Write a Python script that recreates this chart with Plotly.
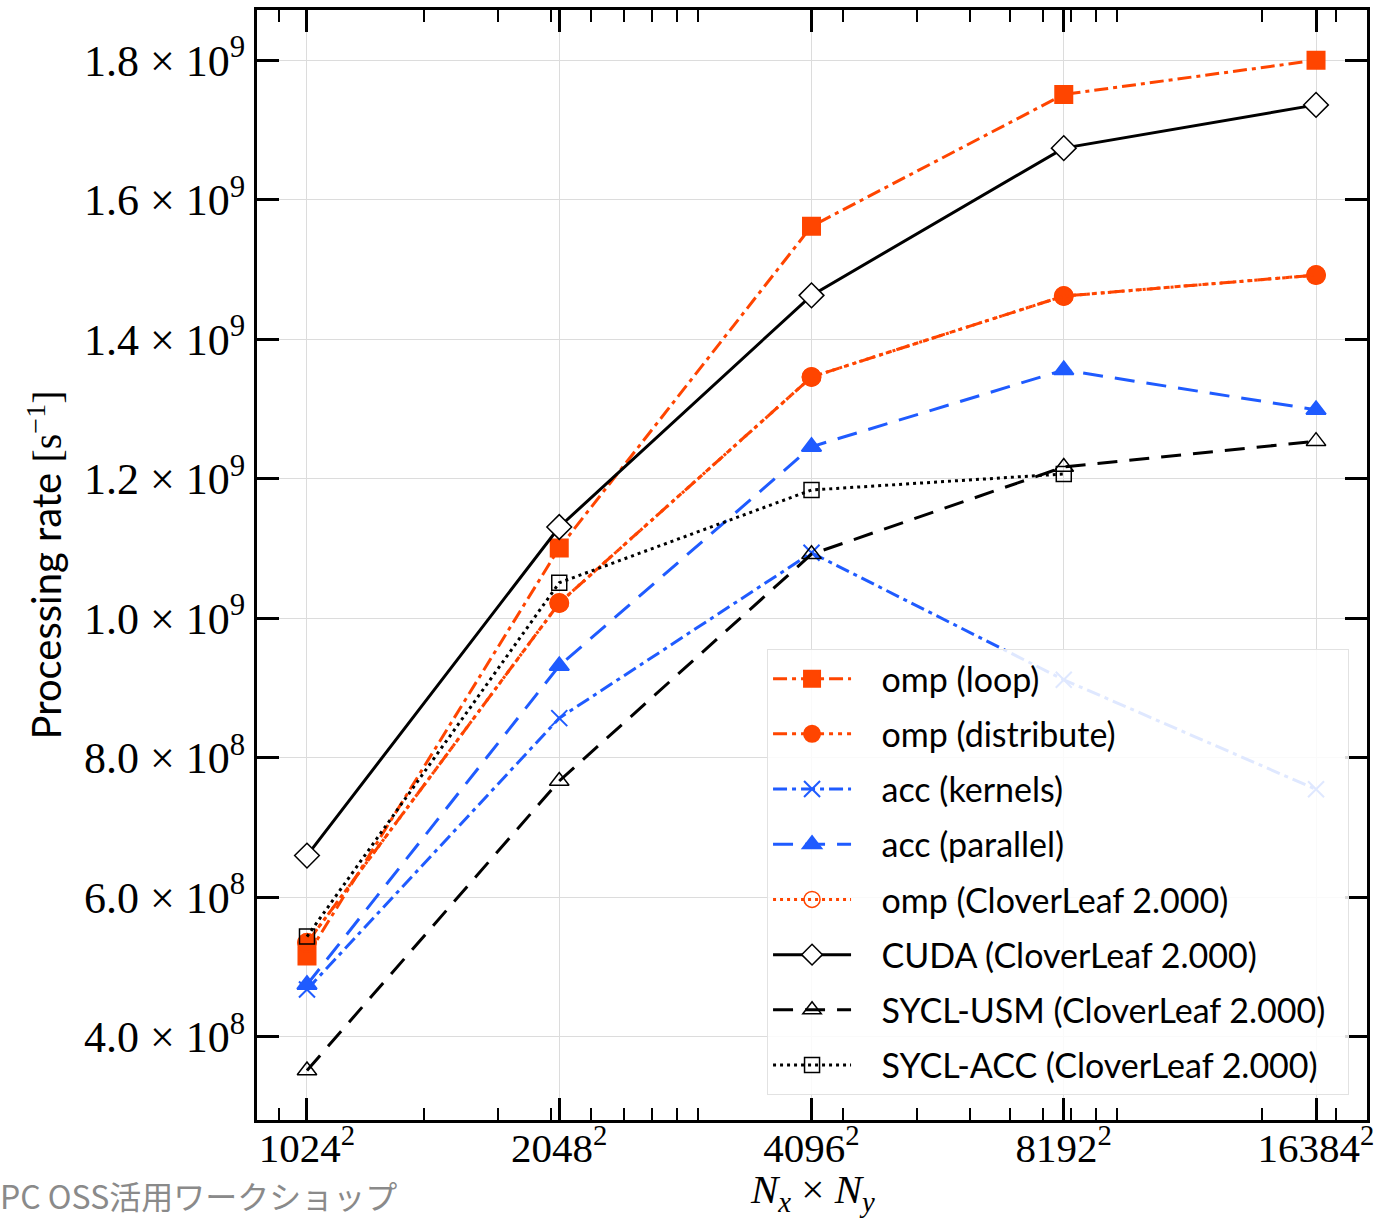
import plotly.graph_objects as go

# ---- data ----
grid_sizes = [1024, 2048, 4096, 8192, 16384]
tick_labels = ["1024<sup>2</sup>", "2048<sup>2</sup>", "4096<sup>2</sup>", "8192<sup>2</sup>", "16384<sup>2</sup>"]

omp_loop = [5.16e8, 1.101e9, 1.562e9, 1.751e9, 1.800e9]
omp_distribute = [5.35e8, 1.022e9, 1.346e9, 1.462e9, 1.492e9]
acc_kernels = [4.68e8, 8.57e8, 1.094e9, 9.12e8, 7.55e8]
acc_parallel = [4.75e8, 9.32e8, 1.246e9, 1.356e9, 1.299e9]
omp_cloverleaf = [5.35e8, 1.022e9, 1.346e9, 1.462e9, 1.492e9]
cuda_cloverleaf = [6.60e8, 1.131e9, 1.463e9, 1.674e9, 1.736e9]
sycl_usm = [3.52e8, 7.67e8, 1.092e9, 1.217e9, 1.254e9]
sycl_acc = [5.44e8, 1.051e9, 1.184e9, 1.207e9, None]

y_ticks = [4e8, 6e8, 8e8, 1.0e9, 1.2e9, 1.4e9, 1.6e9, 1.8e9]
y_tick_labels = ["4.0 × 10<sup>8</sup>", "6.0 × 10<sup>8</sup>", "8.0 × 10<sup>8</sup>",
                 "1.0 × 10<sup>9</sup>", "1.2 × 10<sup>9</sup>", "1.4 × 10<sup>9</sup>",
                 "1.6 × 10<sup>9</sup>", "1.8 × 10<sup>9</sup>"]

x_vals = [n * n for n in grid_sizes]
minor_x = [d * 10 ** e for e in (5, 6, 7, 8) for d in range(2, 10)
           if 8.5e5 < d * 10 ** e < 3.5e8]

RED = "#FF4500"
BLUE = "#1F5BFF"
BLACK = "#000000"

series = [
    ("omp (loop)", omp_loop, RED, "14px,5px,4px,5px", "square", 17, RED),
    ("omp (distribute)", omp_distribute, RED, "14px,5px,4px,5px,4px,5px", "circle", 18, RED),
    ("acc (kernels)", acc_kernels, BLUE, "14px,5px,4px,5px", "x-thin", 16, BLUE),
    ("acc (parallel)", acc_parallel, BLUE, "20px,12px", "triangle-up", 17, BLUE),
    ("omp (CloverLeaf 2.000)", omp_cloverleaf, RED, "3px,4px", "circle-open", 18, RED),
    ("CUDA (CloverLeaf 2.000)", cuda_cloverleaf, BLACK, "solid", "diamond", 19, "white"),
    ("SYCL-USM (CloverLeaf 2.000)", sycl_usm, BLACK, "20px,12px", "triangle-up-open", 17, BLACK),
    ("SYCL-ACC (CloverLeaf 2.000)", sycl_acc, BLACK, "3px,4px", "square-open", 15, BLACK),
]

fig = go.Figure()
for i, (name, vals, col, dash, sym, size, fill) in enumerate(series):
    fig.add_trace(go.Scatter(
        x=x_vals, y=vals, name="\u2002\u2005" + name + "\u2002", mode="lines+markers",
        legendgroup=f"g{i}",
        line=dict(color=col, width=3, dash=dash),
        marker=dict(symbol=sym, size=size, color=fill,
                    line=dict(color=col, width=1.5 if "open" in sym or sym == "diamond" else 2)),
        connectgaps=False,
    ))

fig.update_layout(
    width=1375, height=1219,
    margin=dict(l=257, r=8, t=10, b=99, pad=0),
    plot_bgcolor="white", paper_bgcolor="white",
    showlegend=True,
    legend=dict(
        x=0.4595, y=0.4243, xanchor="left", yanchor="top",
        bgcolor="rgba(255,255,255,0.86)", bordercolor="#e2e2e2", borderwidth=1,
        font=dict(family="Lato", size=34, color="black"),
        itemwidth=78, tracegroupgap=8,
    ),
    annotations=[
        dict(
            text="PC OSS活用ワークショップ", xref="paper", yref="paper",
            x=-259 / 1110, y=(1120 - 1195) / 1110, xanchor="left", yanchor="middle",
            showarrow=False, font=dict(family="Noto Sans CJK JP", size=32, color="#8a8a8a"),
        ),
        dict(
            text="<i>N</i><sub><i>x</i></sub> × <i>N</i><sub><i>y</i></sub>",
            xref="paper", yref="paper", x=0.5, y=(1120 - 1192) / 1110,
            xanchor="center", yanchor="middle", showarrow=False,
            font=dict(family="Liberation Serif", size=41, color="black"),
        ),
    ],
)

fig.update_xaxes(
    type="log", range=[5.9013, 8.5505],
    tickmode="array", tickvals=x_vals, ticktext=tick_labels,
    tickfont=dict(family="Liberation Serif", size=41, color="black"),
    ticklabeloverflow="allow", ticklabelstandoff=-10,
    ticks="inside", ticklen=22, tickwidth=3, tickcolor="black",
    showline=True, linecolor="black", linewidth=3, mirror="allticks",
    showgrid=True, gridcolor="#dcdcdc", gridwidth=1,
    zeroline=False, automargin=False,
    minor=dict(tickmode="array", tickvals=minor_x, ticks="inside", ticklen=12,
               tickwidth=2, tickcolor="black", showgrid=False),
)

fig.update_yaxes(
    range=[2.81e8, 1.872e9],
    tickmode="array", tickvals=y_ticks, ticktext=y_tick_labels,
    tickfont=dict(family="Liberation Serif", size=44, color="black"),
    ticks="inside", ticklen=22, tickwidth=3, tickcolor="black",
    showline=True, linecolor="black", linewidth=3, mirror="allticks",
    showgrid=True, gridcolor="#dcdcdc", gridwidth=1,
    zeroline=False, automargin=False,
    title=dict(text="Processing rate <span style='font-family:Liberation Serif'>[s<sup>−1</sup>]</span>",
               font=dict(family="Lato", size=40, color="black"), standoff=10),
)

fig.write_html("out.html")
